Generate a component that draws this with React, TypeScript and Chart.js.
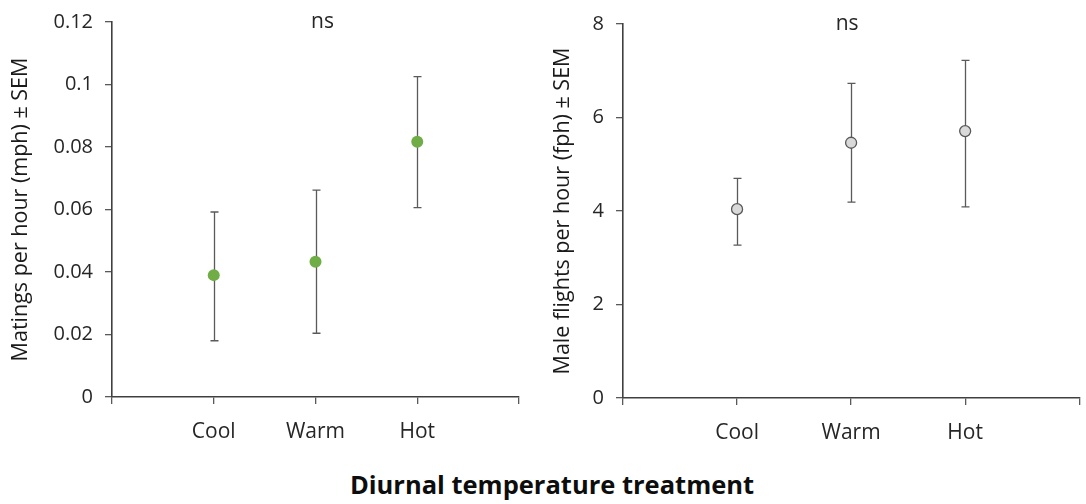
import React, { useEffect, useRef } from "react";
import { Chart, registerables } from "chart.js";

Chart.register(...registerables);

// ---------- data ----------
const categories = ["Cool", "Warm", "Hot"];
const xTickLabels = ["", "Cool", "Warm", "Hot", ""];

const matingMean = [0.039, 0.0433, 0.0817];
const matingUpper = [0.0592, 0.0662, 0.1025];
const matingLower = [0.018, 0.0204, 0.0606];
const matingTicks = [0, 0.02, 0.04, 0.06, 0.08, 0.1, 0.12];

const flightMean = [4.04, 5.46, 5.71];
const flightUpper = [4.7, 6.73, 7.22];
const flightLower = [3.27, 4.19, 4.09];
const flightTicks = [0, 2, 4, 6, 8];

const sigLabel = "ns";
const leftTitle = "Matings per hour (mph) ± SEM";
const rightTitle = "Male flights per hour (fph) ± SEM";
const bottomTitle = "Diurnal temperature treatment";

const FONT = "'Open Sans', 'Noto Sans', sans-serif";

const errorBarPlugin = {
  id: "errorBars",
  beforeDatasetsDraw(chart: any, _args: any, opts: any) {
    const { ctx, scales } = chart;
    const up: number[] = opts.upper || [];
    const lo: number[] = opts.lower || [];
    ctx.save();
    ctx.strokeStyle = opts.color || "#595959";
    ctx.lineWidth = opts.width || 1.2;
    const cap = opts.cap || 4;
    up.forEach((u, i) => {
      const x = Math.round(scales.x.getPixelForValue(i + 1)) + 0.5;
      const yU = scales.y.getPixelForValue(u);
      const yL = scales.y.getPixelForValue(lo[i]);
      ctx.beginPath();
      ctx.moveTo(x, yU);
      ctx.lineTo(x, yL);
      ctx.moveTo(x - cap, yU);
      ctx.lineTo(x + cap, yU);
      ctx.moveTo(x - cap, yL);
      ctx.lineTo(x + cap, yL);
      ctx.stroke();
    });
    ctx.restore();
  },
};

const sigPlugin = {
  id: "sigText",
  afterDraw(chart: any, _args: any, opts: any) {
    const { ctx, chartArea } = chart;
    ctx.save();
    ctx.font = `${opts.size || 20}px ${FONT}`;
    ctx.fillStyle = opts.color || "#262626";
    ctx.textAlign = "center";
    ctx.textBaseline = "middle";
    ctx.fillText(opts.text, (chartArea.left + chartArea.right) / 2 + (opts.dx || 0), chartArea.top + (opts.dy || 0));
    ctx.restore();
  },
};

type PanelProps = {
  left: number;
  top: number;
  width: number;
  height: number;
  means: number[];
  upper: number[];
  lower: number[];
  ticks: number[];
  title: string;
  yAxisWidth: number;
  xAxisHeight: number;
  padTop: number;
  padRight: number;
  titlePad: number;
  pointFill: string;
  pointBorder: string;
  pointBorderWidth: number;
  pointRadius: number;
  sigDx: number;
};

function Panel(p: PanelProps) {
  const ref = useRef<HTMLCanvasElement | null>(null);
  useEffect(() => {
    if (!ref.current) return;
    const tickMin = p.ticks[0];
    const tickMax = p.ticks[p.ticks.length - 1];
    const step = p.ticks[1] - p.ticks[0];
    const chart = new Chart(ref.current, {
      type: "scatter",
      data: {
        datasets: [
          {
            label: p.title,
            data: p.means.map((m, i) => ({ x: i + 1, y: m })),
            pointRadius: p.pointRadius,
            pointHoverRadius: p.pointRadius,
            pointBackgroundColor: p.pointFill,
            pointBorderColor: p.pointBorder,
            pointBorderWidth: p.pointBorderWidth,
            showLine: false,
          },
        ],
      },
      plugins: [errorBarPlugin, sigPlugin],
      options: {
        animation: false,
        responsive: false,
        devicePixelRatio: 1,
        layout: { padding: { top: p.padTop, right: p.padRight, left: 0, bottom: 0 } },
        plugins: {
          legend: { display: false },
          tooltip: { enabled: false },
          errorBars: { upper: p.upper, lower: p.lower, color: "#5a5a5a", width: 1.3, cap: 4 },
          sigText: { text: sigLabel, size: 21, color: "#262626", dx: p.sigDx, dy: 0 },
        } as any,
        scales: {
          x: {
            type: "linear",
            min: 0,
            max: categories.length + 1,
            afterFit: (s: any) => {
              s.height = p.xAxisHeight;
              s.paddingLeft = 0;
              s.paddingRight = 0;
            },
            ticks: {
              stepSize: 1,
              autoSkip: false,
              maxRotation: 0,
              padding: 15,
              color: "#262626",
              font: { family: FONT, size: 21 },
              callback: (v: any) => xTickLabels[Math.round(Number(v))] ?? "",
            },
            grid: {
              display: true,
              drawOnChartArea: false,
              drawTicks: true,
              tickLength: 7,
              color: "#595959",
              lineWidth: 1.3,
            },
            border: { display: true, color: "#404040", width: 1.6 },
          },
          y: {
            type: "linear",
            min: tickMin,
            max: tickMax,
            afterFit: (s: any) => {
              s.width = p.yAxisWidth;
              s.paddingTop = 0;
              s.paddingBottom = 0;
            },
            afterBuildTicks: (s: any) => {
              s.ticks = p.ticks.map((v) => ({ value: v }));
            },
            ticks: {
              stepSize: step,
              padding: 12,
              color: "#262626",
              font: { family: FONT, size: 20 },
              callback: (v: any) => String(Number(Number(v).toFixed(4))),
            },
            grid: {
              display: true,
              drawOnChartArea: false,
              drawTicks: true,
              tickLength: 7,
              color: "#595959",
              lineWidth: 1.3,
            },
            border: { display: true, color: "#404040", width: 1.6 },
            title: {
              display: true,
              text: p.title,
              color: "#1a1a1a",
              font: { family: FONT, size: 21.5 },
              padding: { top: p.titlePad, bottom: 0 },
            },
          },
        },
      },
    });
    return () => chart.destroy();
  }, []);
  return (
    <canvas
      ref={ref}
      width={p.width}
      height={p.height}
      style={{ position: "absolute", left: p.left, top: p.top, width: p.width, height: p.height }}
    />
  );
}

export default function App() {
  return (
    <div
      style={{
        position: "absolute",
        left: 0,
        top: 0,
        width: 1086,
        height: 504,
        background: "#ffffff",
        overflow: "hidden",
      }}
    >
      <Panel
        left={0}
        top={0}
        width={540}
        height={460}
        means={matingMean}
        upper={matingUpper}
        lower={matingLower}
        ticks={matingTicks}
        title={leftTitle}
        yAxisWidth={112}
        xAxisHeight={63}
        padTop={22}
        padRight={21}
        titlePad={8}
        pointFill="#70AD47"
        pointBorder="#70AD47"
        pointBorderWidth={0}
        pointRadius={6}
        sigDx={7}
      />
      <Panel
        left={540}
        top={0}
        width={546}
        height={460}
        means={flightMean}
        upper={flightUpper}
        lower={flightLower}
        ticks={flightTicks}
        title={rightTitle}
        yAxisWidth={83}
        xAxisHeight={62}
        padTop={24}
        padRight={5}
        titlePad={10}
        pointFill="#D9D9D9"
        pointBorder="#595959"
        pointBorderWidth={1.3}
        pointRadius={5.5}
        sigDx={-4}
      />
      <div
        style={{
          position: "absolute",
          left: 0,
          top: 468,
          width: 1104,
          height: 32,
          lineHeight: "32px",
          textAlign: "center",
          fontFamily: FONT,
          fontWeight: 700,
          fontSize: 25.5,
          color: "#0d0d0d",
        }}
      >
        {bottomTitle}
      </div>
    </div>
  );
}
